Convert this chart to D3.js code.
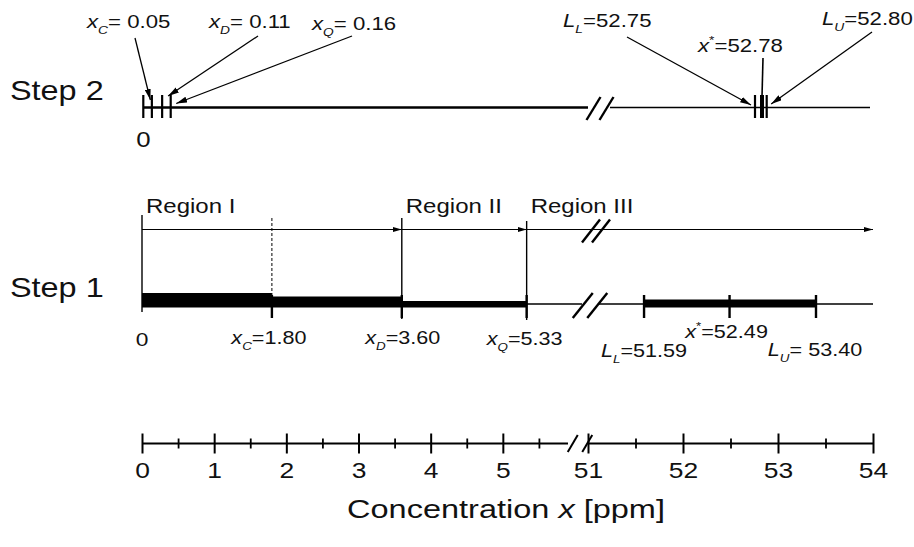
<!DOCTYPE html>
<html><head><meta charset="utf-8">
<script src="https://cdn.jsdelivr.net/npm/d3@7"></script>
<style>
body{margin:0;background:#fff}
svg{display:block}
text{font-family:"Liberation Sans",Arial,Helvetica,sans-serif;fill:#111}
</style></head>
<body><svg id="c" width="914" height="547"></svg>
<script>
// ---------------- data ----------------
const axisMajorTicks = [0, 1, 2, 3, 4, 5, 51, 52, 53, 54];
const axisTickLabels = ["0", "1", "2", "3", "4", "5", "51", "52", "53", "54"];
const axisMinorTicks = [0.5, 1.5, 2.5, 3.5, 4.5, 5.5, 51.5, 52.5, 53.5];

const step1Names  = ["x_C", "x_D", "x_Q", "L_L", "x*", "L_U"];
const step1Values = [1.80, 3.60, 5.33, 51.59, 52.49, 53.40];
const step1Seps   = ["=", "=", "=", "=", "=", "= "];
const step1Segments = [[0, 1.80], [1.80, 3.60], [3.60, 5.33], [51.59, 53.40]];

const regionNames  = ["Region I", "Region II", "Region III"];
const regionStarts = [0, 3.60, 5.33];

const step2Names  = ["x_C", "x_D", "x_Q", "L_L", "x*", "L_U"];
const step2Values = [0.05, 0.11, 0.16, 52.75, 52.78, 52.80];
const step2Seps   = ["= ", "= ", "= ", "=", "=", "="];

// ---------------- styles / layout ----------------
const segThickness = [14.5, 11, 6.5, 8];
const Y = {step2: 107.5, arrow: 229.5, s1: 304, s1Bottom: 307.5, axis: 443.5};
const SX = 1.2;

const svg = d3.select("#c");
const fmt = d3.format(".2f");

// scales (broken axes: compressed piece between the two parts)
const x  = d3.scaleLinear().domain([0, 6, 51, 54]).range([142, 575, 588, 873]);
const x2 = d3.scaleLinear().domain([0, 0.16, 52.75, 52.80]).range([143.3, 170.7, 755, 766.7]);
const xEnd = x.range()[3];

// arrow markers
const defs = svg.append("defs");
function marker(id, L, Wd) {
  defs.append("marker").attr("id", id).attr("markerUnits", "userSpaceOnUse")
    .attr("viewBox", `0 0 ${L} ${Wd}`).attr("refX", L).attr("refY", Wd / 2)
    .attr("markerWidth", L).attr("markerHeight", Wd).attr("orient", "auto")
    .append("path").attr("d", `M0,0L${L},${Wd / 2}L0,${Wd}Z`).attr("fill", "#000");
}
marker("ah", 9, 5);
marker("ah2", 11, 6);

function line(g, x1, y1, xx2, y2, w, extra) {
  const l = g.append("line").attr("x1", x1).attr("y1", y1).attr("x2", xx2).attr("y2", y2)
    .attr("stroke", "#000").attr("stroke-width", w);
  if (extra) extra(l);
  return l;
}
function slashes(g, cx, cy, gap, hw, hh, w) {
  [-gap / 2, gap / 2].forEach(o => line(g, cx + o - hw, cy + hh, cx + o + hw, cy - hh, w));
}
function rich(g, px, py, parts, size, anchor, sx) {
  const t = g.append("text").attr("transform", `translate(${px},${py}) scale(${sx},1)`)
    .attr("font-size", size).attr("text-anchor", anchor);
  let cur = 0;
  parts.forEach(p => {
    let off = 0, fs = size;
    if (p.sub) { off = size * 0.32; fs = size * 0.62; }
    if (p.sup) { off = -size * 0.45; fs = size * 0.62; }
    const ts = t.append("tspan").text(p.t).attr("font-size", fs);
    if (off !== cur) ts.attr("dy", off - cur);
    cur = off;
    if (p.i) ts.attr("font-style", "italic");
  });
  return t;
}
function nameParts(name) {
  if (name.includes("_")) { const [a, b] = name.split("_"); return [{t: a, i: true}, {t: b, i: true, sub: true}]; }
  if (name.endsWith("*")) return [{t: name[0], i: true}, {t: "*", sup: true}];
  return [{t: name}];
}

// ---------------- Step 2 ----------------
const g2 = svg.append("g");
rich(g2, 10, 100, [{t: "Step 2"}], 27, "start", SX);
line(g2, x2(0), Y.step2, 588, Y.step2, 2.6);
line(g2, 610, Y.step2, xEnd - 3, Y.step2, 1.6);
slashes(g2, 600, Y.step2 + 1, 13, 7, 11.5, 2.4);
// ticks
g2.selectAll(".t2").data([0].concat(step2Values)).join("line")
  .attr("x1", d => x2(d)).attr("x2", d => x2(d))
  .attr("y1", 95).attr("y2", 118).attr("stroke", "#000")
  .attr("stroke-width", d => d === 52.78 ? 4 : 2.2);
rich(g2, x2(0), 147, [{t: "0"}], 21.5, "middle", SX);
// labels + arrows
const s2Lab = [[87, 28], [209, 28], [312, 30], [563, 27], [698, 52], [822, 25]];
const s2Arrow = [[135, 38, -1.5, 100], [258, 36, 6, 96], [352, 36, 5.5, 103.5],
                 [627, 37, -4, 105], [763, 58, 0, 96], [872, 32, 4.5, 104]];
step2Names.forEach((n, i) => {
  rich(g2, s2Lab[i][0], s2Lab[i][1],
    nameParts(n).concat([{t: step2Seps[i] + fmt(step2Values[i])}]), 18.5, "start", SX);
  const a = s2Arrow[i];
  line(g2, a[0], a[1], x2(step2Values[i]) + a[2], a[3], 1.3,
    l => { if (n !== "x*") l.attr("marker-end", "url(#ah2)"); else l.attr("stroke-width", 1.6); });
});

// ---------------- Step 1 ----------------
const g1 = svg.append("g");
rich(g1, 10, 297, [{t: "Step 1"}], 27, "start", SX);
// region arrows
const bounds = regionStarts.concat([54]);
regionStarts.forEach((s, i) => {
  line(g1, x(s), Y.arrow, x(bounds[i + 1]), Y.arrow, 1.2, l => l.attr("marker-end", "url(#ah)"));
  rich(g1, x(s) + 4, 213, [{t: regionNames[i]}], 20, "start", SX);
});
slashes(g1, 596, Y.arrow + 1.5, 10, 9, 11.5, 2.4);
// region vertical bounds
line(g1, x(0), 215, x(0), 312, 1.4);
line(g1, x(3.60), 218, x(3.60), 319, 1.4);
line(g1, x(5.33), 221, x(5.33), 320, 1.4);
line(g1, x(1.80), 218, x(1.80), 296, 1, l => l.attr("stroke-dasharray", "3,2"));
// baseline
line(g1, x(0), Y.s1, 582, Y.s1, 1.6);
line(g1, 598, Y.s1, xEnd, Y.s1, 1.6);
slashes(g1, 590, Y.s1 + 1.5, 14.5, 10, 12.5, 2.4);
// thick bars
g1.selectAll(".seg").data(step1Segments).join("rect")
  .attr("x", d => x(d[0])).attr("width", d => x(d[1]) - x(d[0]))
  .attr("y", (d, i) => Y.s1Bottom - segThickness[i]).attr("height", (d, i) => segThickness[i])
  .attr("fill", "#000");
// ticks
g1.selectAll(".t1").data(step1Values).join("line")
  .attr("x1", d => x(d)).attr("x2", d => x(d))
  .attr("y1", 295).attr("y2", 318).attr("stroke", "#000").attr("stroke-width", 2.4);
// labels
rich(g1, x(0), 346, [{t: "0"}], 19, "middle", SX);
const s1Lab = [[-3, 344], [1, 344], [-2, 345], [0, 357], [-3, 338], [-1, 356]];
step1Names.forEach((n, i) => {
  rich(g1, x(step1Values[i]) + s1Lab[i][0], s1Lab[i][1],
    nameParts(n).concat([{t: step1Seps[i] + fmt(step1Values[i])}]), 18, "middle", SX);
});

// ---------------- bottom axis ----------------
const ga = svg.append("g").attr("transform", `translate(0,${Y.axis})`);
line(ga, x(0), 0, 568, 0, 2);
line(ga, 588, 0, xEnd, 0, 2);
slashes(ga, 580, 0, 14.5, 5, 8.5, 2);
const major = ga.append("g").call(d3.axisBottom(x).tickValues(axisMajorTicks).tickSize(10)
  .tickFormat((d, i) => axisTickLabels[i]));
major.select(".domain").remove();
major.selectAll(".tick line").attr("y1", -10).attr("y2", 10).attr("stroke", "#000").attr("stroke-width", 2);
major.selectAll(".tick text").attr("y", 35).attr("dy", null).attr("font-size", 22)
  .attr("font-family", null).attr("transform", `scale(${SX},1)`).attr("fill", "#111");
const minor = ga.append("g").call(d3.axisBottom(x).tickValues(axisMinorTicks).tickSize(5).tickFormat(""));
minor.select(".domain").remove();
minor.selectAll(".tick line").attr("y1", -5).attr("y2", 5).attr("stroke", "#000").attr("stroke-width", 1.8);
major.attr("font-family", null);
minor.attr("font-family", null);

rich(svg, 506, 518, [{t: "Concentration "}, {t: "x", i: true}, {t: " [ppm]"}], 25, "middle", 1.3);
</script></body></html>
